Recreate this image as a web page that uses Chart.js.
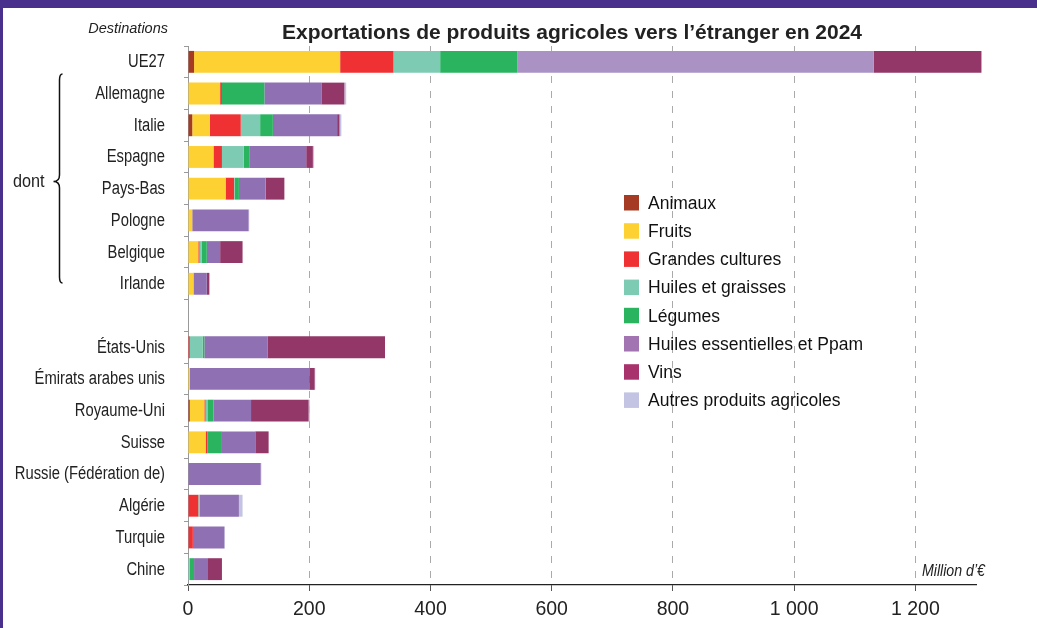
<!DOCTYPE html>
<html lang="fr">
<head>
<meta charset="utf-8">
<title>Exportations de produits agricoles vers l’étranger en 2024</title>
<script src="https://cdn.jsdelivr.net/npm/chart.js@4/dist/chart.umd.min.js"></script>
<style>
  html, body { margin: 0; padding: 0; background: #fff; }
  #wrap { width: 1037px; height: 628px; position: relative; }
</style>
</head>
<body>
<div id="wrap"><canvas id="chart"></canvas></div>
<script>
// destinations (blank row separates EU countries from the rest)
const destinations = ['UE27', 'Allemagne', 'Italie', 'Espagne', 'Pays-Bas', 'Pologne', 'Belgique', 'Irlande', '',
  'États-Unis', 'Émirats arabes unis', 'Royaume-Uni', 'Suisse', 'Russie (Fédération de)', 'Algérie', 'Turquie', 'Chine'];

// million d'euros per product group
const animaux    = [10, 0, 7, 0, 0, 0, 0, 0, null, 0, 0, 3, 0, 0, 0, 0, 0];
const fruits     = [241, 53, 29, 42, 62, 7, 17, 9, null, 0, 3, 24, 29, 0, 0, 0, 0];
const grandesCultures = [88, 3, 51, 14, 14, 0, 2, 0, null, 3, 0, 2, 3, 0, 17, 8, 0];
const huilesGraisses  = [77, 0, 32, 36, 1, 0, 4, 0, null, 21, 0, 4, 0, 0, 2, 0, 3];
const legumes    = [127, 70, 21, 9, 7, 0, 8, 0, null, 3, 0, 9, 24, 0, 0, 0, 7];
const huilesEss  = [588, 94, 106, 94, 44, 93, 22, 22, null, 104, 197, 62, 55, 120, 65, 52, 23];
const vins       = [178, 38, 4, 11, 31, 0, 37, 4, null, 194, 9, 95, 22, 0, 0, 0, 23];
const autres     = [0, 3, 3, 2, 0, 1, 0, 1, null, 0, 1, 2, 0, 1, 6, 1, 0];

const xTicks = [0, 200, 400, 600, 800, 1000, 1200];

const SANS = '"Liberation Sans", Arial, sans-serif';

function series(label, data, color) {
  return { label: label, data: data, backgroundColor: color, borderWidth: 0, clip: false,
           barPercentage: 0.69, categoryPercentage: 1 };
}

const datasets = [
  series('Animaux', animaux, '#A53B23'),
  series('Fruits', fruits, '#FED133'),
  series('Grandes cultures', grandesCultures, '#EF3134'),
  series('Huiles et graisses', huilesGraisses, '#7ECBB3'),
  series('Légumes', legumes, '#2AB460'),
  series('Huiles essentielles et Ppam', huilesEss, '#8F70B2'),
  series('Vins', vins, '#933769'),
  series('Autres produits agricoles', autres, '#C3C3E3')
];
// the EU total bar uses a paler purple
datasets[5].backgroundColor = destinations.map((d, i) => i === 0 ? '#AA93C4' : '#8F70B2');
const legendColors = ['#A53B23', '#FED133', '#EF3134', '#7ECBB3', '#2AB460', '#A275B2', '#A8336C', '#C3C3E3'];

function fmt(v) {
  return String(v).replace(/\B(?=(\d{3})+(?!\d))/g, ' ');
}

// condensed text: no narrow face installed, so squeeze Liberation Sans horizontally
function narrowText(ctx, text, x, y, align, font, sx) {
  ctx.save();
  ctx.translate(x, y);
  ctx.scale(sx || 0.82, 1);
  ctx.font = font;
  ctx.textAlign = align;
  ctx.fillText(text, 0, 0);
  ctx.restore();
}

const decor = {
  id: 'decor',
  afterDraw(chart) {
    const ctx = chart.ctx;
    ctx.save();
    // frame
    ctx.fillStyle = '#48308C';
    ctx.fillRect(0, 0, chart.width, 8);
    ctx.fillRect(0, 0, 3, chart.height);

    // category labels
    const ys = chart.scales.y;
    ctx.fillStyle = '#222';
    ctx.textBaseline = 'middle';
    destinations.forEach((d, i) => {
      narrowText(ctx, d, 165, ys.getPixelForValue(i) + 0.5, 'right', '18px ' + SANS);
    });

    ctx.textBaseline = 'alphabetic';
    ctx.textAlign = 'center';
    ctx.font = 'bold 21px ' + SANS;
    ctx.fillText('Exportations de produits agricoles vers l’étranger en 2024', 572, 39);

    ctx.textAlign = 'right';
    ctx.font = 'italic 14.5px ' + SANS;
    ctx.fillText('Destinations', 168, 33);

    narrowText(ctx, 'Million d’€', 985, 576, 'right', 'italic 16.5px ' + SANS, 0.86);
    narrowText(ctx, 'dont', 13, 187, 'left', '18px ' + SANS, 0.9);

    // brace
    ctx.strokeStyle = '#111';
    ctx.lineWidth = 1.5;
    ctx.beginPath();
    ctx.moveTo(62.5, 74);
    ctx.quadraticCurveTo(59.5, 74, 59.5, 80);
    ctx.lineTo(59.5, 175);
    ctx.quadraticCurveTo(59.5, 181.5, 53.5, 181.5);
    ctx.quadraticCurveTo(59.5, 181.5, 59.5, 188);
    ctx.lineTo(59.5, 277);
    ctx.quadraticCurveTo(59.5, 283, 62.5, 283);
    ctx.stroke();

    // legend
    ctx.textAlign = 'left';
    ctx.font = '17.5px ' + SANS;
    ctx.textBaseline = 'middle';
    chart.data.datasets.forEach((ds, i) => {
      const top = 195 + i * 28.2;
      ctx.fillStyle = legendColors[i];
      ctx.fillRect(624, top, 15, 15.5);
      ctx.fillStyle = '#111';
      ctx.fillText(ds.label, 648, top + 9);
    });
    ctx.restore();
  }
};

new Chart(document.getElementById('chart'), {
  type: 'bar',
  data: { labels: destinations, datasets: datasets },
  plugins: [decor],
  options: {
    indexAxis: 'y',
    responsive: true,
    maintainAspectRatio: false,
    animation: false,
    layout: { padding: { top: 46, right: 61, left: 0, bottom: 0 } },
    plugins: { legend: { display: false }, tooltip: { enabled: false } },
    scales: {
      x: {
        stacked: true,
        min: 0,
        max: 1300,
        afterFit: s => { s.height = 43; },
        afterBuildTicks: s => { s.ticks = xTicks.map(v => ({ value: v })); },
        ticks: { includeBounds: false, padding: 7, color: '#222',
                 font: { family: SANS, size: 19.5 }, callback: v => fmt(v) },
        grid: { color: '#aaa', lineWidth: 1, tickLength: 6, tickColor: '#555' },
        border: { color: '#222', width: 1.2, dash: [7, 8] }
      },
      y: {
        stacked: true,
        afterFit: s => { s.width = 188; },
        ticks: { display: false },
        grid: { drawOnChartArea: false, tickLength: 4, color: '#999', offset: true },
        border: { color: '#999', width: 1 }
      }
    }
  }
});
</script>
</body>
</html>
